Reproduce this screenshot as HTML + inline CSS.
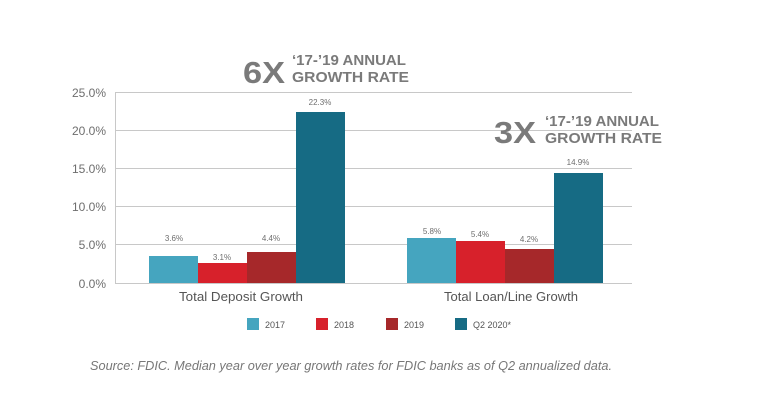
<!DOCTYPE html>
<html><head><style>
body{margin:0;background:#fff;}
svg text{font-family:"Liberation Sans",sans-serif;}
</style></head><body>
<svg width="768" height="402" xmlns="http://www.w3.org/2000/svg">
<rect width="768" height="402" fill="#fff"/>
<g stroke="#c8c8c8" stroke-width="1">
<line x1="115" y1="92.5" x2="632" y2="92.5"/>
<line x1="115" y1="130.5" x2="632" y2="130.5"/>
<line x1="115" y1="168.5" x2="632" y2="168.5"/>
<line x1="115" y1="206.5" x2="632" y2="206.5"/>
<line x1="115" y1="244.5" x2="632" y2="244.5"/>
<line x1="115" y1="283.5" x2="632" y2="283.5"/>
<line x1="115.5" y1="92" x2="115.5" y2="283"/>
</g>
<g font-size="12" fill="#6e6e6e" text-anchor="end">
<text x="106" y="97">25.0%</text>
<text x="106" y="135">20.0%</text>
<text x="106" y="173">15.0%</text>
<text x="106" y="211">10.0%</text>
<text x="106" y="249">5.0%</text>
<text x="106" y="288">0.0%</text>
</g>
<rect x="149" y="256" width="49" height="27" fill="#45a5bf"/>
<rect x="198" y="263" width="49" height="20" fill="#d7212b"/>
<rect x="247" y="252" width="49" height="31" fill="#a6282a"/>
<rect x="296" y="112" width="49" height="171" fill="#166b84"/>
<rect x="407" y="238" width="49" height="45" fill="#45a5bf"/>
<rect x="456" y="241" width="49" height="42" fill="#d7212b"/>
<rect x="505" y="249" width="49" height="34" fill="#a6282a"/>
<rect x="554" y="173" width="49" height="110" fill="#166b84"/>
<g font-size="8" fill="#6e6e6e" text-anchor="middle">
<text x="174" y="241">3.6%</text>
<text x="222" y="260">3.1%</text>
<text x="271" y="241">4.4%</text>
<text x="320" y="105">22.3%</text>
<text x="432" y="234">5.8%</text>
<text x="480" y="237">5.4%</text>
<text x="529" y="242">4.2%</text>
<text x="578" y="165">14.9%</text>
</g>
<g font-size="12.5" fill="#555">
<text x="179" y="301" textLength="124" lengthAdjust="spacingAndGlyphs">Total Deposit Growth</text>
<text x="444" y="301" textLength="134" lengthAdjust="spacingAndGlyphs">Total Loan/Line Growth</text>
</g>
<g font-weight="bold" fill="#7a7a7a">
<text x="243" y="83" font-size="31" textLength="42" lengthAdjust="spacingAndGlyphs">6X</text>
<text x="292" y="65" font-size="15" textLength="114" lengthAdjust="spacingAndGlyphs">‘17-’19 ANNUAL</text>
<text x="292" y="82" font-size="15" textLength="117" lengthAdjust="spacingAndGlyphs">GROWTH RATE</text>
<text x="494" y="143" font-size="31" textLength="42" lengthAdjust="spacingAndGlyphs">3X</text>
<text x="545" y="126" font-size="15" textLength="114" lengthAdjust="spacingAndGlyphs">‘17-’19 ANNUAL</text>
<text x="545" y="143" font-size="15" textLength="117" lengthAdjust="spacingAndGlyphs">GROWTH RATE</text>
</g>
<rect x="247" y="318" width="12" height="12" fill="#45a5bf"/>
<rect x="316" y="318" width="12" height="12" fill="#d7212b"/>
<rect x="386" y="318" width="12" height="12" fill="#a6282a"/>
<rect x="455" y="318" width="12" height="12" fill="#166b84"/>
<g font-size="9" fill="#555">
<text x="265" y="328">2017</text>
<text x="334" y="328">2018</text>
<text x="404" y="328">2019</text>
<text x="473" y="328">Q2 2020*</text>
</g>
<text x="90" y="370" font-size="12.5" font-style="italic" fill="#777" textLength="522" lengthAdjust="spacingAndGlyphs">Source: FDIC. Median year over year growth rates for FDIC banks as of Q2 annualized data.</text>
</svg>
</body></html>
